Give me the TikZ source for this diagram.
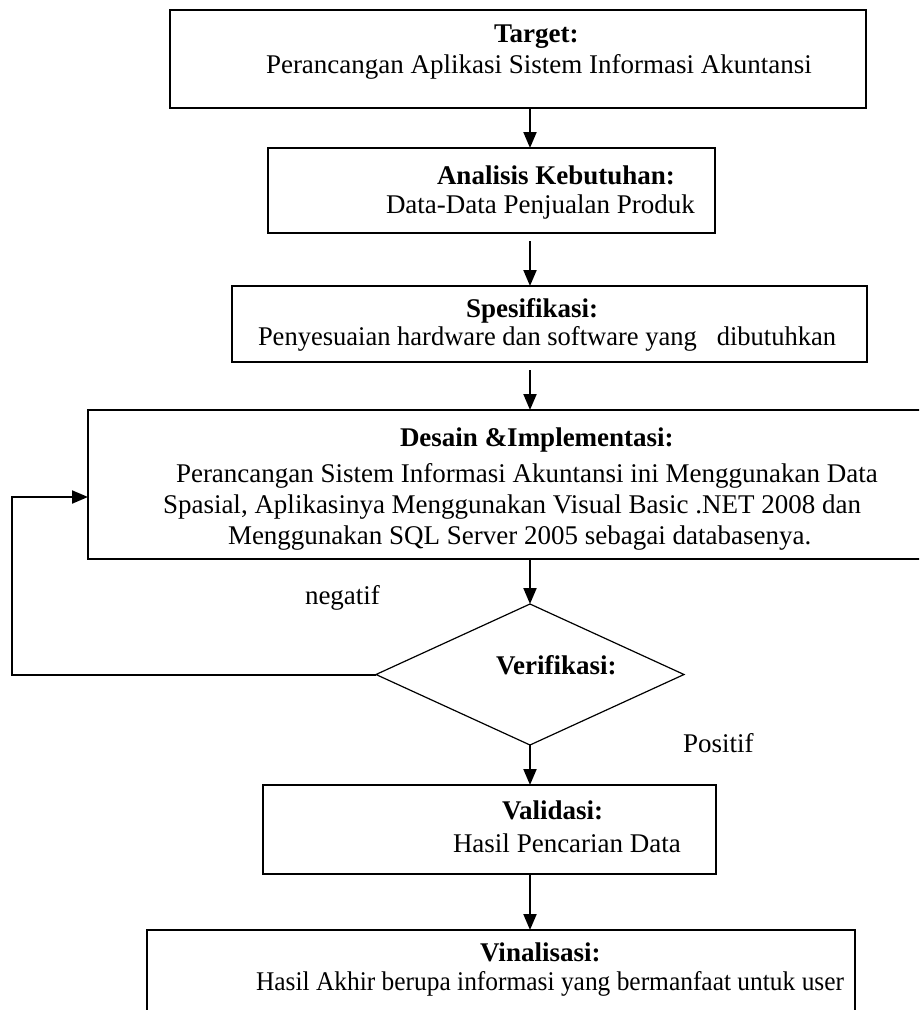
\documentclass[tikz,border=0pt]{standalone}
\usepackage{fontspec}
\setmainfont{Liberation Serif}
\usetikzlibrary{arrows.meta,shapes.geometric}
\begin{document}
\begin{tikzpicture}[x=1pt,y=-1pt,
  box/.style={draw,line width=1.4pt,rectangle,inner sep=0pt,outer sep=0pt},
  dia/.style={draw,line width=1.2pt,diamond,aspect=2.18,inner sep=0pt,outer sep=0pt,minimum width=308pt,minimum height=141pt},
  txt/.style={anchor=base west,inner sep=0pt,outer sep=0pt,font=\fontsize{27}{31}\selectfont},
  ttl/.style={txt,font=\fontsize{27}{31}\selectfont\bfseries},
  arr/.style={draw,line width=2pt,-{Triangle[length=16pt,width=13pt]}}]
\clip (0,0) rectangle (919,1010);
% boxes
\node[box,minimum width=696pt,minimum height=98pt] (target) at (518,59) {};
\node[box,minimum width=447pt,minimum height=85pt] (anal) at (491.5,190.5) {};
\node[box,minimum width=635pt,minimum height=76pt] (spec) at (549.5,324) {};
\node[box,minimum width=872pt,minimum height=149pt] (desain) at (524,484.5) {};
\node[dia] (diam) at (530,674.5) {};
\node[box,minimum width=453pt,minimum height=89pt] (valid) at (489.5,829.5) {};
\node[box,minimum width=708pt,minimum height=130pt] (final) at (501,995) {};
% texts
\node[ttl] (t1) at (494,42) {Target:};
\node[txt] (t2) at (266,73) {Perancangan Aplikasi Sistem Informasi Akuntansi};
\node[ttl] (a1) at (437,184) {Analisis Kebutuhan:};
\node[txt] (a2) at (386,213) {Data-Data Penjualan Produk};
\node[ttl] (s1) at (466,317) {Spesifikasi:};
\node[txt] (s2) at (258,345) {\resizebox{578pt}{\height}{Penyesuaian hardware dan software yang\ \ \ dibutuhkan}};
\node[ttl] (d1) at (400,446) {Desain \&Implementasi:};
\node[txt] (d2) at (176,482) {Perancangan Sistem Informasi Akuntansi ini Menggunakan Data};
\node[txt] (d3) at (163,513) {Spasial, Aplikasinya Menggunakan Visual Basic .NET 2008 dan};
\node[txt] (d4) at (228,544) {Menggunakan SQL Server 2005 sebagai databasenya.};
\node[ttl] (v1) at (496,674) {Verifikasi:};
\node[txt] (neg) at (305,604) {negatif};
\node[txt] (pos) at (683,752) {Positif};
\node[ttl] (va1) at (502,819) {Validasi:};
\node[txt] (va2) at (453,852) {Hasil Pencarian Data};
\node[ttl] (f1) at (480,961) {Vinalisasi:};
\node[txt] (f2) at (256,990) {\resizebox{588pt}{\height}{Hasil Akhir berupa informasi yang bermanfaat untuk user}};
% connectors
\draw[arr] (target.south -| diam.north) -- (anal.north -| diam.north);
\draw[arr] ([yshift=-8pt]anal.south -| diam.north) -- (spec.north -| diam.north);
\draw[arr] ([yshift=-8pt]spec.south -| diam.north) -- (desain.north -| diam.north);
\draw[arr] (desain.south -| diam.north) -- (diam.north);
\draw[arr] (diam.south) -- (valid.north -| diam.south);
\draw[arr] (valid.south -| diam.south) -- (final.north -| diam.south);
\coordinate (fb) at (12,674.5);
\draw[arr] (diam.west) -- (fb) |- ([yshift=-12.5pt]desain.west);
\end{tikzpicture}
\end{document}
